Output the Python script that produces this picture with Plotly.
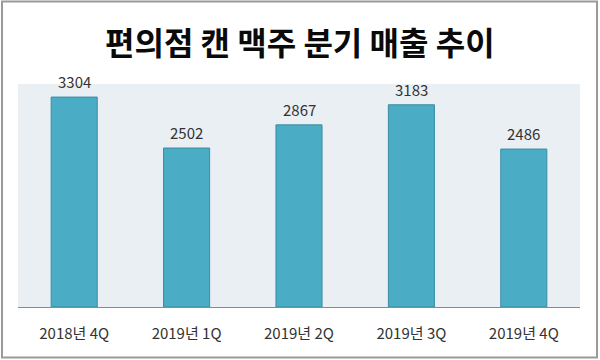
import plotly.graph_objects as go

categories = ["2018년 4Q", "2019년 1Q", "2019년 2Q", "2019년 3Q", "2019년 4Q"]
values = [3304, 2502, 2867, 3183, 2486]
title_text = "편의점 캔 맥주 분기 매출 추이"

W, H = 600, 360
L, R, T, B = 18, 20, 84, 53
pw, ph = W - L - R, H - T - B

def px_x(px):
    return (px - L) / pw

def px_y(py):
    return (H - B - py) / ph

fig = go.Figure()
fig.add_trace(go.Bar(
    x=categories, y=values,
    marker=dict(color="#4BACC6", line=dict(color="#3A8CA3", width=1)),
    width=0.41,
))

for c, v in zip(categories, values):
    fig.add_annotation(x=c, y=v, text=str(v), showarrow=False,
                       yanchor="bottom", yshift=3,
                       font=dict(family="Noto Sans CJK KR", size=15, color="#333333"))

fig.add_annotation(xref="paper", yref="paper", x=0.5 * (px_x(0) + px_x(W)), y=px_y(41),
                   text="<b>" + title_text + "</b>", showarrow=False,
                   xanchor="center", yanchor="middle",
                   font=dict(family="Noto Sans CJK KR", size=32, color="#0a0a0a"))

fig.add_shape(type="rect", xref="paper", yref="paper",
              x0=px_x(2), x1=px_x(597), y0=px_y(1.5), y1=px_y(357.5),
              line=dict(color="#9a9a9a", width=2), fillcolor="rgba(0,0,0,0)", layer="above")

fig.update_layout(
    width=W, height=H,
    margin=dict(l=L, r=R, t=T, b=B, pad=0),
    paper_bgcolor="white",
    plot_bgcolor="#E9EFF3",
    showlegend=False,
    font=dict(family="Noto Sans CJK KR", size=15, color="#333333"),
    xaxis=dict(showline=True, linecolor="#8a8a8a", linewidth=1, ticks="",
               ticklabelstandoff=13, tickfont=dict(size=15, color="#333333"),
               showgrid=False, zeroline=False),
    yaxis=dict(range=[0, 3510], visible=False, showgrid=False, zeroline=False),
)

fig.write_html("out.html", config={"displayModeBar": False},
               post_script="document.body.style.margin='0';document.body.style.overflow='hidden';")
